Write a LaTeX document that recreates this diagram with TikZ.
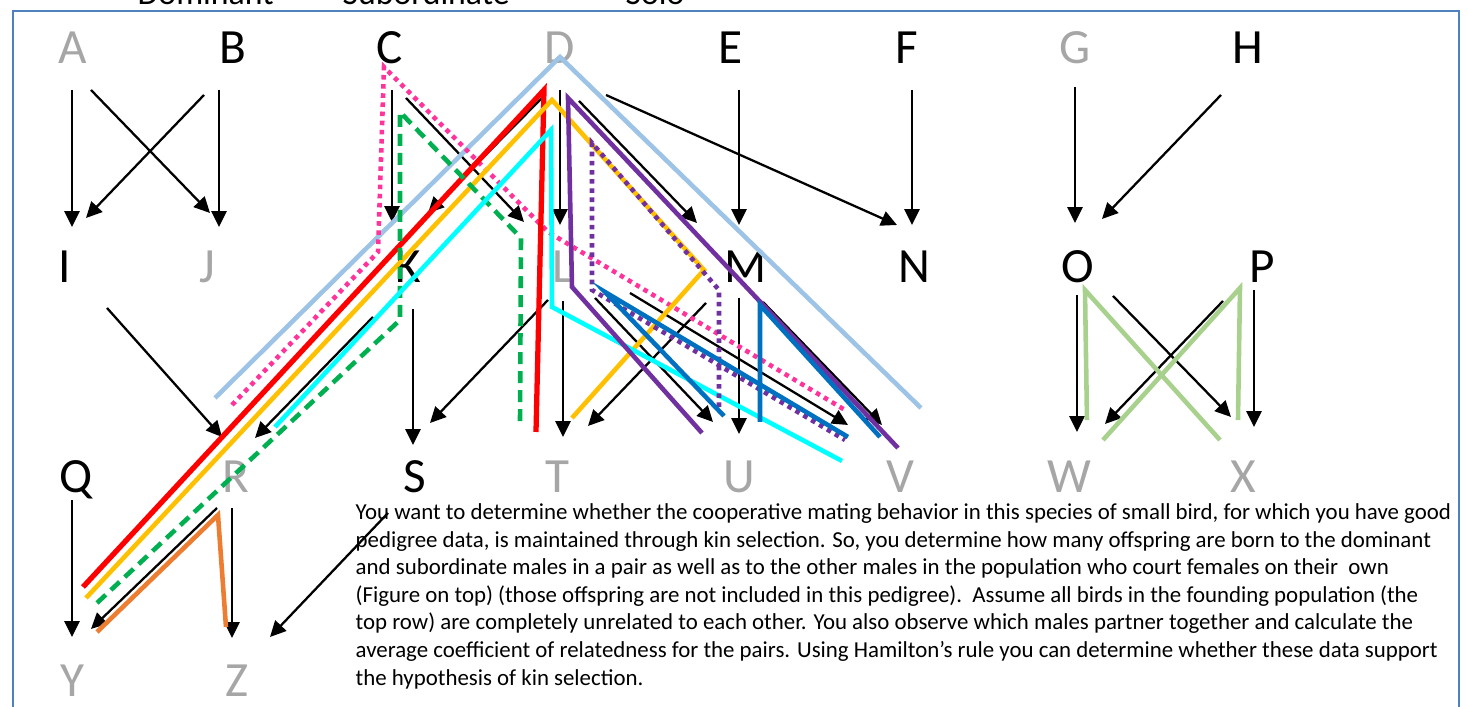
\documentclass[tikz,border=0pt]{standalone}
\usepackage{fontspec}
\setmainfont{Carlito}
\usepackage{xcolor}
\usepackage{tikz}
\usetikzlibrary{arrows.meta,calc}

\definecolor{framebl}{RGB}{79,129,189}
\definecolor{femgray}{RGB}{166,166,166}
\definecolor{skyline}{HTML}{9DC3E6}
\definecolor{pinkline}{HTML}{FF3399}
\definecolor{goldline}{HTML}{FFC000}
\definecolor{greenline}{HTML}{00B050}
\definecolor{aqualine}{HTML}{00FFFF}
\definecolor{purpline}{HTML}{7030A0}
\definecolor{blueline}{HTML}{0070C0}
\definecolor{sageline}{HTML}{A9D18E}
\definecolor{rustline}{HTML}{ED7D31}

\tikzset{
  bird/.style={font=\fontsize{14}{14}\selectfont, text height=9pt, text depth=0pt,
    inner sep=0pt},
  faded/.style={bird, text=femgray},
  arr/.style={line width=0.65pt, -{Triangle[length=4.5pt,width=4.3pt]}},
  trace/.style={line width=1.3pt},
  dots/.style={trace, dash pattern=on 1.3pt off 1.3pt},
}

\begin{document}
\begin{tikzpicture}[x=0.01cm,y=-0.01cm]
  \useasboundingbox (0,0) rectangle (1468,707);
  % Legend above the frame (cut off by the page edge)
  \node[font=\fontsize{9.6}{10}\selectfont, anchor=base west, inner sep=0] (legdom) at (137,5) {Dominant};
  \node[font=\fontsize{9.6}{10}\selectfont, anchor=base west, inner sep=0] (legsub) at (342,5) {Subordinate};
  \node[font=\fontsize{9.6}{10}\selectfont, anchor=base west, inner sep=0] (legsolo) at (625,5) {Solo};
  % Frame
  \draw[framebl, line width=0.75pt] (13,720) -- (13,11) -- (1459,11) -- (1459,720);

  % Founders
  \node[faded] (A) at (73,48) {A};
  \node[bird]  (B) at (233,48) {B};
  \node[bird]  (C) at (390,48) {C};
  \node[faded] (D) at (560,48) {D};
  \node[bird]  (E) at (731,48) {E};
  \node[bird]  (F) at (907,48) {F};
  \node[faded] (G) at (1075,48) {G};
  \node[bird]  (H) at (1248,48) {H};
  % Second generation
  \node[bird]  (I) at (65,267) {I};
  \node[faded] (J) at (207,267) {J};
  \node[bird]  (K) at (408,267) {K};
  \node[faded] (L) at (563,267) {L};
  \node[bird]  (M) at (746,267) {M};
  \node[bird]  (N) at (914,267) {N};
  \node[bird]  (O) at (1078,267) {O};
  \node[bird]  (P) at (1262,267) {P};
  % Third generation
  \node[bird]  (Q) at (76,477) {Q};
  \node[faded] (R) at (236,477) {R};
  \node[bird]  (S) at (415,477) {S};
  \node[faded] (T) at (557,477) {T};
  \node[faded] (U) at (739,477) {U};
  \node[faded] (V) at (900,477) {V};
  \node[faded] (W) at (1069,477) {W};
  \node[faded] (X) at (1243,477) {X};
  % Fourth generation
  \node[faded] (Y) at (72,681) {Y};
  \node[faded] (Z) at (237,681) {Z};

  % Question text
  \node[anchor=north west, inner sep=0, align=left, font=\fontsize{6.5}{7.85}\selectfont] (question) at (355,503)
    {You want to determine whether the cooperative mating behavior in this species of small bird, for which you have good\\
     pedigree data, is maintained through kin selection. So, you determine how many offspring are born to the dominant\\
     and subordinate males in a pair as well as to the other males in the population who court females on their\ \ own\\
     (Figure on top) (those offspring are not included in this pedigree).\ \ Assume all birds in the founding population (the\\
     top row) are completely unrelated to each other. You also observe which males partner together and calculate the\\
     average coefficient of relatedness for the pairs. Using Hamilton’s rule you can determine whether these data support\\
     the hypothesis of kin selection.};

  % Parent -> offspring arrows, first row
  \draw[arr] ($(A)+(-1,42)$) -- ($(I)+(7,-40)$);
  \draw[arr] ($(A)+(18,42)$) -- ($(J)+(3,-54)$);
  \draw[arr] ($(B)+(-29,47)$) -- ($(I)+(21,-49)$);
  \draw[arr] ($(B)+(-14,42)$) -- ($(J)+(12,-40)$);
  \draw[arr] ($(C)+(2,42)$) -- ($(K)+(-16,-45)$);
  \draw[arr] ($(C)+(16,50)$) -- ($(L)+(-39,-45)$);
  \draw[arr] ($(D)+(-17,49)$) -- ($(K)+(20,-54)$);
  \draw[arr] ($(D)+(0,42)$) -- ($(L)+(-3,-42)$);
  \draw[arr] ($(D)+(19,53)$) -- ($(M)+(-49,-44)$);
  \draw[arr] ($(D)+(46,47)$) -- ($(N)+(-17,-42)$);
  \draw[arr] ($(E)+(8,42)$) -- ($(M)+(-7,-42)$);
  \draw[arr] ($(F)+(5,42)$) -- ($(N)+(-2,-42)$);
  \draw[arr] ($(G)+(0,39)$) -- ($(O)+(-3,-44)$);
  \draw[arr] ($(H)+(-27,47)$) -- ($(O)+(24,-48)$);
  % second row
  \draw[arr] ($(I)+(42,41)$) -- ($(R)+(-14,-40)$);
  \draw[arr] ($(K)+(-35,50)$) -- ($(R)+(19,-39)$);
  \draw[arr] ($(K)+(5,42)$) -- ($(S)+(-2,-32)$);
  \draw[arr] ($(L)+(-15,33)$) -- ($(S)+(15,-54)$);
  \draw[arr] ($(L)+(0,34)$) -- ($(T)+(6,-40)$);
  \draw[arr] ($(L)+(32,31)$) -- ($(U)+(-26,-55)$);
  \draw[arr] ($(L)+(67,26)$) -- ($(V)+(-52,-52)$);
  \draw[arr] ($(M)+(-40,36)$) -- ($(T)+(31,-51)$);
  \draw[arr] ($(M)+(-7,31)$) -- ($(U)+(0,-43)$);
  \draw[arr] ($(M)+(17,35)$) -- ($(V)+(-18,-52)$);
  \draw[arr] ($(O)+(-1,28)$) -- ($(W)+(8,-45)$);
  \draw[arr] ($(O)+(35,29)$) -- ($(X)+(-12,-60)$);
  \draw[arr] ($(P)+(-39,34)$) -- ($(W)+(36,-53)$);
  \draw[arr] ($(P)+(-8,23)$) -- ($(X)+(11,-50)$);
  % third row
  \draw[arr] ($(Q)+(-4,23)$) -- ($(Y)+(0,-44)$);
  \draw[arr] ($(R)+(-19,31)$) -- ($(Y)+(19,-52)$);
  \draw[arr] ($(R)+(-4,31)$) -- ($(Z)+(-5,-43)$);
  \draw[arr] ($(S)+(-27,36)$) -- ($(Z)+(33,-44)$);

  % Relatedness traces
  \draw[trace, skyline] (215,398) -- (560,57) -- (921,408);
  \draw[dots, pinkline] (232,405) -- (378,252) -- (384,67) -- (548,232) -- (845,410);
  \draw[trace, red, line width=1.5pt] (83,587) -- (544,90) -- (536,432);
  \draw[trace, goldline] (86,598) -- (552,100) -- (704,270) -- (572,418);
  \draw[trace, greenline, dash pattern=on 3.4pt off 2pt] (97,603) -- (400,320) -- (400,112) -- (521,238) -- (520,422);
  \draw[trace, aqualine] (275,427) -- (551,130) -- (552,307) -- (842,461);
  \draw[trace, purpline] (702,433) -- (572,287) -- (568,98) -- (898,448);
  \draw[dots, purpline] (719,407) -- (719,290) -- (592,143) -- (592,290) -- (845,440);
  \draw[trace, blueline] (724,416) -- (605,292) -- (848,437);
  \draw[trace, blueline] (760,422) -- (760,305) -- (880,437);
  \draw[trace, sageline] (1087,420) -- (1085,290) -- (1220,440);
  \draw[trace, sageline] (1103,440) -- (1240,288) -- (1238,420);
  \draw[trace, rustline] (97,632) -- (218,515) -- (226,627);
\end{tikzpicture}
\end{document}
